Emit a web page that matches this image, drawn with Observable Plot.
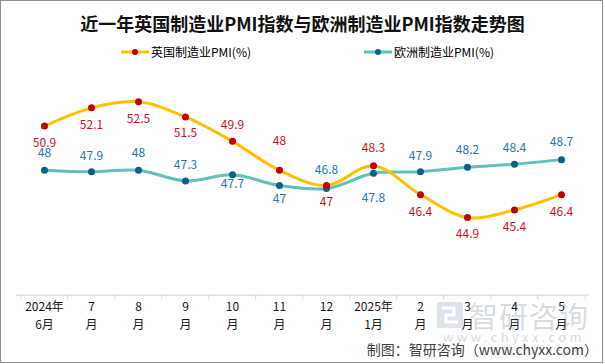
<!DOCTYPE html>
<html>
<head>
<meta charset="utf-8">
<script src="https://cdn.jsdelivr.net/npm/d3@7"></script>
<script src="https://cdn.jsdelivr.net/npm/@observablehq/plot@0.6"></script>
<style>
  html, body { margin: 0; padding: 0; background: #fff; }
  #wrap { position: relative; width: 605px; height: 364px; overflow: hidden; font-family: "Noto Sans CJK SC", "Noto Sans", sans-serif; }
  #frame { position: absolute; left: 0; top: 0; width: 603px; height: 363px; box-sizing: border-box; border: 1px solid #8f8f8f; pointer-events: none; }
  #title { position: absolute; left: 0; width: 605px; top: 10px; text-align: center; font-size: 18px; font-weight: bold; color: #111; line-height: 26px; }
  .leg { position: absolute; top: 44px; font-size: 12px; color: #000; line-height: 16px; display: flex; align-items: center; white-space: nowrap; }
  .leg svg { margin-right: 2px; }
  #caption { position: absolute; right: 7px; top: 339px; font-size: 14px; color: #404040; line-height: 20px; white-space: nowrap; }
  #wm1 { position: absolute; left: 469px; top: 297px; font-size: 29px; color: rgba(160,172,186,0.42); line-height: 36px; letter-spacing: 1px; white-space: nowrap; }
  #wm2 { position: absolute; left: 443px; top: 329px; font-size: 13px; color: rgba(160,172,186,0.45); line-height: 16px; letter-spacing: 3.4px; white-space: nowrap; }
  #logo { position: absolute; left: 437px; top: 302px; }
  #chart { position: absolute; left: 0; top: 0; }
</style>
</head>
<body>
<div id="wrap">
  <div id="title">近一年英国制造业PMI指数与欧洲制造业PMI指数走势图</div>
  <div class="leg" id="legUK"></div>
  <div class="leg" id="legEU"></div>
  <svg id="logo" width="26" height="26" viewBox="0 0 26 26">
    <rect x="0" y="0" width="26" height="26" rx="2" fill="rgba(150,170,195,0.32)"/>
    <path d="M5 6 H17 V13 H9 V20 H21" stroke="#fff" stroke-width="3" fill="none"/>
  </svg>
  <div id="wm1">智研咨询</div>
  <div id="wm2">www.chyxx.com</div>
  <div id="chart"></div>
  <div id="caption">制图：智研咨询（www.chyxx.com）</div>
  <div id="frame"></div>
</div>
<script>
// ---- data ----
const months = ["2024年\n6月", "7\n月", "8\n月", "9\n月", "10\n月", "11\n月", "12\n月", "2025年\n1月", "2\n月", "3\n月", "4\n月", "5\n月"];
const ukPMI = [50.9, 52.1, 52.5, 51.5, 49.9, 48, 47, 48.3, 46.4, 44.9, 45.4, 46.4];
const euPMI = [48, 47.9, 48, 47.3, 47.7, 47, 46.8, 47.8, 47.9, 48.2, 48.4, 48.7];
const seriesNames = ["英国制造业PMI(%)", "欧洲制造业PMI(%)"];

// ---- label placement (layout, not data) ----
const ukLabelDy = [17, 17, 17, 16, -16, -29, 17, -18, 17, 17, 17, 17];
const euLabelDy = [-17, -16, -17, -16, 9, 14, -18, 25, -16, -17, -16, -17];

const colors = {
  ukLine: "#FFC000", ukDot: "#C00000", ukText: "#D0101C",
  euLine: "#62C0B8", euDot: "#0E5E8A", euText: "#2479B0"
};

const table = months.map((m, i) => ({ month: m, uk: ukPMI[i], eu: euPMI[i], i }));
const yMin = 39.8;
const step = (565.1 - 40.1) / (months.length - 1);

const marks = [
  Plot.ruleY([yMin], { stroke: "#d9d9d9", strokeWidth: 1.3 }),
  Plot.ruleX(table, { x: "month", dx: -step / 2, y1: yMin, y2: yMin - 0.3, stroke: "#d9d9d9" }),
  Plot.ruleX([table[table.length - 1]], { x: "month", dx: step / 2, y1: yMin, y2: yMin - 0.3, stroke: "#d9d9d9" }),
  Plot.text(table, { x: "month", text: "month", frameAnchor: "bottom", lineAnchor: "top", dy: 3, lineHeight: 1.5, fontSize: 12, fill: "#1a1a1a" }),
  Plot.line(table, { x: "month", y: "eu", curve: "catmull-rom", stroke: colors.euLine, strokeWidth: 3 }),
  Plot.line(table, { x: "month", y: "uk", curve: "catmull-rom", stroke: colors.ukLine, strokeWidth: 3 }),
  Plot.dot(table, { x: "month", y: "eu", r: 3.5, fill: colors.euDot }),
  Plot.dot(table, { x: "month", y: "uk", r: 3.5, fill: colors.ukDot }),
  ...table.map((d, i) => Plot.text([d], { x: "month", y: "uk", text: (r) => String(r.uk), dy: ukLabelDy[i], fill: colors.ukText, fontSize: 12 })),
  ...table.map((d, i) => Plot.text([d], { x: "month", y: "eu", text: (r) => String(r.eu), dy: euLabelDy[i], fill: colors.euText, fontSize: 12 }))
];

const chart = Plot.plot({
  width: 605,
  height: 364,
  marginLeft: 16.2,
  marginRight: 16,
  marginTop: 78.4,
  marginBottom: 69.3,
  style: { fontFamily: "'Noto Sans CJK SC', 'Noto Sans', sans-serif", fontSize: "12px", background: "transparent", overflow: "visible" },
  x: { type: "point", domain: months, range: [40.1, 565.1], padding: 0, axis: null },
  y: { domain: [yMin, 54], range: [294.7, 78.4], axis: null },
  marks
});
document.getElementById("chart").appendChild(chart);

// ---- legend ----
function legend(el, left, name, line, dot) {
  el.style.left = left + "px";
  el.innerHTML = `<svg width="28" height="8"><line x1="0" y1="4" x2="28" y2="4" stroke="${line}" stroke-width="3"/><circle cx="14" cy="4" r="3" fill="${dot}"/></svg><span>${name}</span>`;
}
legend(document.getElementById("legUK"), 121, seriesNames[0], colors.ukLine, colors.ukDot);
legend(document.getElementById("legEU"), 364, seriesNames[1], colors.euLine, colors.euDot);
</script>
</body>
</html>
